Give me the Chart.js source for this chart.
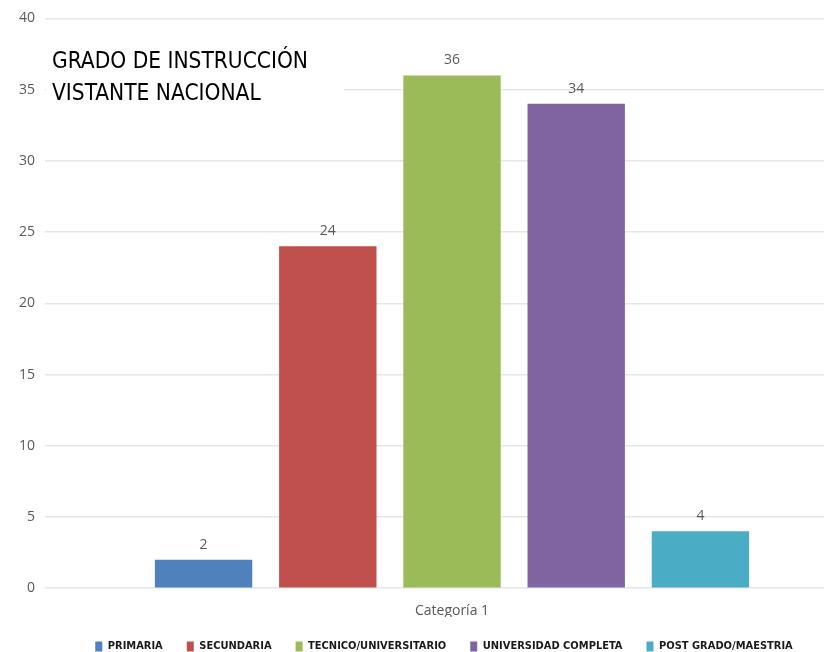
<!DOCTYPE html>
<html>
<head>
<meta charset="utf-8">
<script src="https://cdn.jsdelivr.net/npm/chart.js@4/dist/chart.umd.min.js"></script>
<style>
html,body{margin:0;padding:0;background:#fff;overflow:hidden;}
#wrap{width:824px;height:652px;position:relative;overflow:hidden;}
canvas{display:block;}
</style>
</head>
<body>
<div id="wrap"><canvas id="c" width="880" height="662"></canvas></div>
<script>
const categories = ["Categoría 1"];
const seriesNames = ["PRIMARIA", "SECUNDARIA", "TECNICO/UNIVERSITARIO", "UNIVERSIDAD COMPLETA", "POST GRADO/MAESTRIA"];
const seriesValues = [2, 24, 36, 34, 4];
const seriesColors = ["#4F81BD", "#C0504D", "#9BBB59", "#8064A2", "#4BACC6"];
const titleLines = ["GRADO DE INSTRUCCIÓN", "VISTANTE NACIONAL"];
const yTicks = {min: 0, max: 40, step: 5};

const NARROW = '"Liberation Sans Narrow", "DejaVu Sans Condensed", "Liberation Sans", sans-serif';

const datasets = seriesNames.map((n, i) => ({
  label: n,
  data: [seriesValues[i]],
  backgroundColor: seriesColors[i],
  borderWidth: 0,
  categoryPercentage: 0.763,
  barPercentage: 0.784
}));

const valueLabels = {
  id: 'valueLabels',
  afterDatasetsDraw(chart) {
    const ctx = chart.ctx;
    ctx.save();
    ctx.fillStyle = '#595959';
    ctx.font = '14px "Open Sans", sans-serif';
    ctx.textAlign = 'center';
    ctx.textBaseline = 'bottom';
    chart.data.datasets.forEach((ds, i) => {
      const meta = chart.getDatasetMeta(i);
      meta.data.forEach((bar, j) => {
        ctx.fillText(String(ds.data[j]), bar.x, bar.y - 8);
      });
    });
    ctx.restore();
  }
};

const titleBox = {
  id: 'titleBox',
  afterDraw(chart) {
    const ctx = chart.ctx;
    const a = chart.chartArea;
    ctx.save();
    ctx.fillStyle = '#ffffff';
    ctx.fillRect(a.left + 1, 34, 298, 72);
    ctx.fillStyle = '#000000';
    ctx.font = '22.5px ' + NARROW;
    ctx.textAlign = 'left';
    ctx.textBaseline = 'alphabetic';
    ctx.fillText(titleLines[0], 52, 68);
    ctx.fillText(titleLines[1], 52, 100);
    ctx.restore();
  }
};

const legendShift = {
  id: 'legendShift',
  afterLayout(chart) {
    if (chart.legend) {
      chart.legend.left += 10;
      chart.legend.right += 10;
    }
  }
};

new Chart(document.getElementById('c'), {
  type: 'bar',
  data: { labels: categories, datasets },
  options: {
    responsive: false,
    animation: false,
    layout: { padding: { left: 9, right: 21, top: 15, bottom: 0 } },
    plugins: {
      title: { display: false },
      tooltip: { enabled: false },
      legend: {
        position: 'bottom',
        labels: {
          boxWidth: 7,
          boxHeight: 10,
          padding: 24,
          color: '#1a1a1a',
          font: { size: 11, weight: 'bold', family: NARROW }
        }
      }
    },
    scales: {
      x: {
        grid: { display: false },
        border: { display: false },
        ticks: { color: '#595959', font: { size: 14, family: '"Open Sans", sans-serif' }, padding: 6 },
        afterFit(s) { s.height -= 8; }
      },
      y: {
        min: yTicks.min,
        max: yTicks.max,
        grid: { color: '#e6e6e6', lineWidth: 1.5, drawTicks: false },
        border: { display: false },
        ticks: { stepSize: yTicks.step, color: '#595959', font: { size: 14, family: '"Open Sans", sans-serif' }, padding: 10 }
      }
    }
  },
  plugins: [valueLabels, titleBox, legendShift]
});
</script>
</body>
</html>
